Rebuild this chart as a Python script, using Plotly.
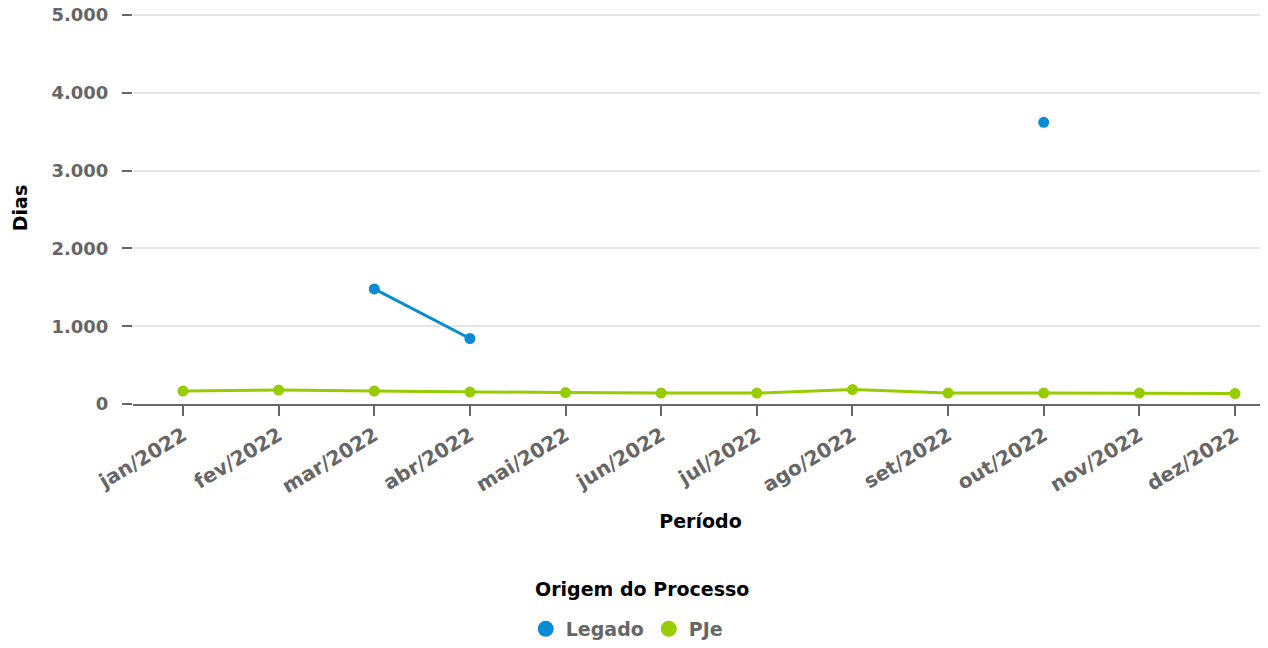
import plotly.graph_objects as go

months = ["jan/2022", "fev/2022", "mar/2022", "abr/2022", "mai/2022", "jun/2022",
          "jul/2022", "ago/2022", "set/2022", "out/2022", "nov/2022", "dez/2022"]
legado = [None, None, 1480, 842, None, None, None, None, None, 3622, None, None]
pje = [166, 179, 166, 153, 147, 140, 140, 185, 140, 140, 140, 134]
y_ticks = [0, 1000, 2000, 3000, 4000, 5000]

BLUE = "#0a8bd3"
GREEN = "#96cc00"
FONT = "DejaVu Sans"
idx = list(range(len(months)))

fig = go.Figure()
fig.add_trace(go.Scatter(x=idx, y=legado, mode="lines+markers", name="Legado",
                         legendgroup="Legado", showlegend=False,
                         line=dict(color=BLUE, width=3), marker=dict(size=11, color=BLUE),
                         connectgaps=False))
fig.add_trace(go.Scatter(x=idx, y=pje, mode="lines+markers", name="PJe",
                         legendgroup="PJe", showlegend=False,
                         line=dict(color=GREEN, width=3), marker=dict(size=11, color=GREEN)))
# legend symbols (dots only)
fig.add_trace(go.Scatter(x=[None], y=[None], mode="markers", name="Legado",
                         legendgroup="Legado", marker=dict(size=16, color=BLUE)))
fig.add_trace(go.Scatter(x=[None], y=[None], mode="markers", name="PJe",
                         legendgroup="PJe", marker=dict(size=16, color=GREEN)))

fig.update_layout(
    width=1260, height=640,
    margin=dict(l=125, r=0, t=4, b=233),
    paper_bgcolor="white", plot_bgcolor="white",
    separators=",.",
    font=dict(family=FONT, size=18, color="#666666", weight="bold"),
    showlegend=True,
    legend=dict(orientation="h", x=0.435, xanchor="center", y=-0.574, yanchor="middle",
                itemsizing="trace",
                font=dict(family=FONT, size=19, color="#666666", weight="bold")),
    annotations=[dict(text="Origem do Processo", xref="paper", yref="paper",
                      x=0.4485, y=-0.471, xanchor="center", yanchor="middle",
                      showarrow=False,
                      font=dict(family=FONT, size=19, color="#000000", weight="bold"))],
    xaxis=dict(
        tickmode="array", tickvals=idx, ticktext=months, tickangle=-31,
        range=[-0.523, 11.345], showgrid=False, zeroline=False, automargin=False,
        showline=True, linecolor="#666666", linewidth=2,
        ticks="outside", ticklen=10, tickcolor="#666666", tickwidth=1.5,
        tickfont=dict(family=FONT, size=20, color="#666666", weight="bold"),
        title=dict(text="Período", standoff=18,
                   font=dict(family=FONT, size=19, color="#000000", weight="bold")),
    ),
    yaxis=dict(
        range=[0, 5040], tickmode="array", tickvals=y_ticks, tickformat=",d",
        showgrid=True, gridcolor="#e6e6e6", gridwidth=1.5, zeroline=False, automargin=False,
        showline=False, ticks="outside", ticklen=10, tickcolor="#666666", tickwidth=2,
        ticklabelstandoff=10, ticklabeloverflow="allow",
        tickfont=dict(family=FONT, size=18, color="#666666", weight="bold"),
        title=dict(text="Dias", standoff=18,
                   font=dict(family=FONT, size=19, color="#000000", weight="bold")),
    ),
)

fig.write_html("out.html")
